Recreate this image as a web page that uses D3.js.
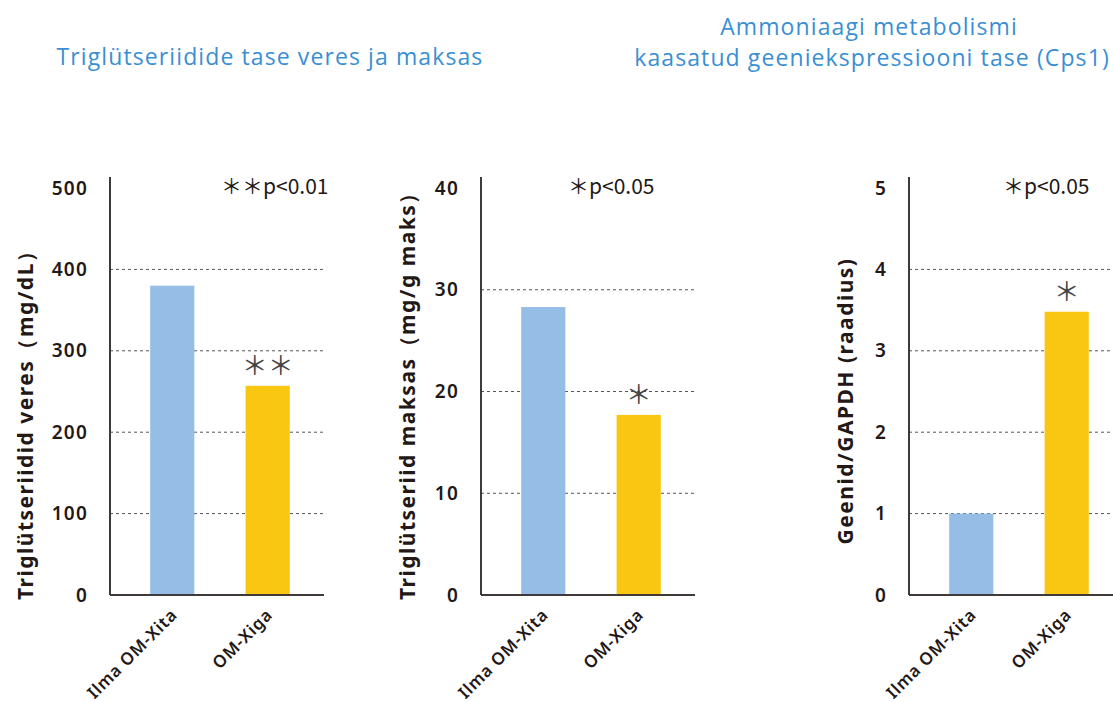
<!DOCTYPE html>
<html>
<head>
<meta charset="utf-8">
<script src="https://cdn.jsdelivr.net/npm/d3@7"></script>
<style>
  body { margin: 0; background: #fff; }
  svg { display: block; }
</style>
</head>
<body>
<div id="chart-area"></div>
<script>
// data
const groups = ["Ilma OM-Xita", "OM-Xiga"];
const bloodTG = [380, 257];
const liverTG = [28.3, 17.7];
const cps1 = [1.0, 3.48];
const bloodTicks = [0, 100, 200, 300, 400, 500];
const liverTicks = [0, 10, 20, 30, 40];
const cps1Ticks = [0, 1, 2, 3, 4, 5];
const barColors = ["#95bde5", "#f9c612"];

const W = 1113, H = 702;
const ink = "#231815";
const blue = "#3a8fd2";
const cjk = "'Noto Sans CJK JP', 'Noto Sans'";

const svg = d3.select("#chart-area")
  .append("svg")
    .attr("width", W)
    .attr("height", H);

// titles
function title(x, y, txt) {
  svg.append("text")
    .attr("x", x).attr("y", y)
    .attr("text-anchor", "middle")
    .style("font-family", "Open Sans").style("font-size", "23px")
    .style("letter-spacing", "1.1px")
    .style("fill", blue)
    .text(txt);
}
title(270, 65, "Triglütseriidide tase veres ja maksas");
title(869, 35, "Ammoniaagi metabolismi");
title(872, 66, "kaasatud geeniekspressiooni tase (Cps1)");

const panels = [
  {x0: 110, values: bloodTG, ticks: bloodTicks, max: 500,
   title: "Triglütseriidid veres（mg/dL）", titleX: -85, titleY: 600, anchor: "start",
   note: "＊＊p<0.01", noteX: 111, mark: "＊＊"},
  {x0: 481, values: liverTG, ticks: liverTicks, max: 40,
   title: "Triglütseriid maksas（mg/g maks）", titleX: -74, titleY: 600, anchor: "start",
   note: "＊p<0.05", noteX: 87, mark: "＊"},
  {x0: 909, values: cps1, ticks: cps1Ticks, max: 5,
   title: "Geenid/GAPDH (raadius)", titleX: -64, titleY: 401, anchor: "middle",
   note: "＊p<0.05", noteX: 94, mark: "＊"}
];

const pw = 214, yTop = 188, yBase = 595;

panels.forEach(function(p) {
  const g = svg.append("g")
    .attr("transform", `translate(${p.x0}, 0)`);

  const x = d3.scaleBand()
    .domain(groups)
    .range([0, pw])
    .paddingInner(0.537)
    .paddingOuter(0.39)
    .align(0.54);

  const y = d3.scaleLinear()
    .domain([0, p.max])
    .range([yBase, yTop]);

  // grid lines
  g.selectAll(".grid")
    .data(p.ticks.filter(t => t > 0 && t < p.max))
    .enter()
    .append("line")
      .attr("x1", 0).attr("x2", pw)
      .attr("y1", d => y(d)).attr("y2", d => y(d))
      .attr("stroke", "#555")
      .attr("stroke-width", 1)
      .attr("stroke-dasharray", "3,3");

  // bars
  g.selectAll(".bar")
    .data(p.values)
    .enter()
    .append("rect")
      .attr("x", (d, i) => x(groups[i]))
      .attr("y", d => y(d))
      .attr("width", x.bandwidth())
      .attr("height", d => yBase - y(d))
      .attr("fill", (d, i) => barColors[i]);

  // y axis
  const ya = g.append("g")
    .call(d3.axisLeft(y).tickValues(p.ticks).tickFormat(d3.format("d")).tickSize(0).tickPadding(22));
  ya.select(".domain").remove();
  ya.selectAll("text")
    .style("font-family", "Noto Sans")
    .style("font-weight", "600")
    .style("font-size", "19px")
    .style("letter-spacing", "1.2px")
    .style("fill", ink);

  // axis lines
  g.append("line")
    .attr("x1", 0).attr("x2", 0)
    .attr("y1", yTop - 11).attr("y2", yBase)
    .attr("stroke", "#3e3a39").attr("stroke-width", 2);
  g.append("line")
    .attr("x1", 0).attr("x2", pw)
    .attr("y1", yBase).attr("y2", yBase)
    .attr("stroke", "#3e3a39").attr("stroke-width", 2);

  // x labels
  g.selectAll(".xlab")
    .data(groups)
    .enter()
    .append("text")
      .attr("transform", d => `translate(${x(d) + x.bandwidth() / 2 + 6}, 616) rotate(-45)`)
      .attr("text-anchor", "end")
      .style("font-family", "Noto Sans")
      .style("font-weight", "600")
      .style("font-size", "17px")
      .style("letter-spacing", "0.8px")
      .style("fill", ink)
      .text(d => d);

  // y title
  g.append("text")
    .attr("transform", `translate(${p.titleX + 8}, ${p.titleY}) rotate(-90)`)
    .attr("text-anchor", p.anchor)
    .style("font-family", "Noto Sans")
    .style("font-weight", "700")
    .style("font-size", "21px")
    .style("letter-spacing", "1.5px")
    .style("fill", ink)
    .text(p.title);

  // significance note
  g.append("text")
    .attr("x", p.noteX).attr("y", 194)
    .style("font-family", cjk)
    .style("font-size", "21px")
    .style("fill", ink)
    .text(p.note);

  // mark above treated bar
  g.append("text")
    .attr("x", x(groups[1]) + x.bandwidth() / 2)
    .attr("y", y(p.values[1]) - 11)
    .attr("text-anchor", "middle")
    .style("font-family", cjk)
    .style("font-size", "26px")
    .style("fill", "#444")
    .text(p.mark);
});
</script>
</body>
</html>
